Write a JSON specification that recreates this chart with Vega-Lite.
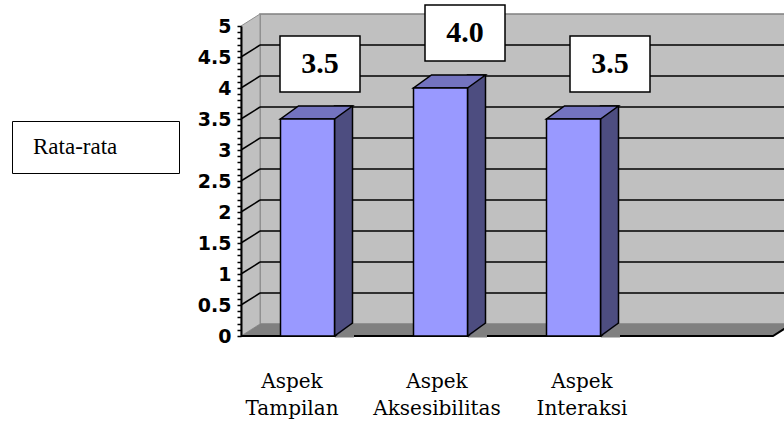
{
  "$schema": "https://vega.github.io/schema/vega-lite/v6.json",
  "width": 532,
  "height": 310,
  "autosize": "none",
  "padding": {"left": 241, "top": 26, "right": 11, "bottom": 88},
  "background": "white",
  "config": {"view": {"stroke": null}},
  "datasets": {
    "nilai": [
      {"aspek": "Aspek Tampilan", "nilai": 3.5, "series": "Rata-rata"},
      {"aspek": "Aspek Aksesibilitas", "nilai": 4.0, "series": "Rata-rata"},
      {"aspek": "Aspek Interaksi", "nilai": 3.5, "series": "Rata-rata"}
    ],
    "grid": [
      {"v": 0.5}, {"v": 1}, {"v": 1.5}, {"v": 2}, {"v": 2.5},
      {"v": 3}, {"v": 3.5}, {"v": 4}, {"v": 4.5}
    ]
  },
  "layer": [
    {
      "description": "back wall",
      "data": {"values": [{}]},
      "mark": {"type": "rect", "fill": "#C0C0C0", "stroke": "#808080", "strokeWidth": 1.5,
               "xOffset": 19, "x2Offset": 19, "yOffset": -12, "y2Offset": -12},
      "encoding": {
        "x": {"value": 0},
        "x2": {"value": "width"},
        "y": {"datum": 5, "type": "quantitative", "scale": {"domain": [0, 5], "nice": false}, "axis": null},
        "y2": {"datum": 0}
      }
    },
    {
      "description": "side wall",
      "data": {"values": [{}]},
      "mark": {"type": "point", "shape": "M0,0L0.19,-0.12L0.19,-3.22L0,-3.1Z", "size": 40000,
               "filled": true, "fill": "#C0C0C0", "stroke": "#909090", "strokeWidth": 1, "opacity": 1},
      "encoding": {"x": {"value": 0}, "y": {"datum": 0, "type": "quantitative", "scale": {"domain": [0, 5], "nice": false}, "axis": null}}
    },
    {
      "description": "floor",
      "data": {"values": [{}]},
      "mark": {"type": "point", "shape": "M0,0L5.32,0L5.51,-0.12L0.19,-0.12Z", "size": 40000,
               "filled": true, "fill": "#808080", "strokeWidth": 0, "opacity": 1},
      "encoding": {"x": {"value": 0}, "y": {"datum": 0, "type": "quantitative", "scale": {"domain": [0, 5], "nice": false}, "axis": null}}
    },
    {
      "description": "gridlines on the back wall",
      "data": {"name": "grid"},
      "mark": {"type": "rule", "color": "black", "strokeWidth": 1.5, "xOffset": 19, "x2Offset": 19, "yOffset": -12},
      "encoding": {
        "x": {"value": 0}, "x2": {"value": "width"},
        "y": {"field": "v", "type": "quantitative", "scale": {"domain": [0, 5], "nice": false}, "axis": null}
      }
    },
    {
      "description": "gridlines on the side wall",
      "data": {"name": "grid"},
      "mark": {"type": "rule", "color": "black", "strokeWidth": 1.5, "xOffset": 19, "yOffset": -12, "x2Offset": 0, "y2Offset": 0},
      "encoding": {
        "x": {"value": 0}, "x2": {"value": 0},
        "y": {"field": "v", "type": "quantitative", "scale": {"domain": [0, 5], "nice": false}, "axis": null},
        "y2": {"field": "v"}
      }
    },
    {
      "description": "front edge of the floor",
      "data": {"values": [{}]},
      "mark": {"type": "point", "shape": "M0,0L5.32,0L5.51,-0.12", "size": 40000,
               "filled": false, "stroke": "black", "strokeWidth": 2, "opacity": 1},
      "encoding": {"x": {"value": 0}, "y": {"datum": 0, "type": "quantitative", "scale": {"domain": [0, 5], "nice": false}, "axis": null}}
    },
    {
      "description": "bar side faces",
      "data": {"name": "nilai"},
      "mark": {"type": "bar", "width": 18, "xOffset": 36, "yOffset": -13,
               "fill": "#4D4D80", "stroke": "black", "strokeWidth": 1.5},
      "encoding": {
        "x": {"field": "aspek", "type": "nominal", "axis": null,
              "scale": {"type": "band", "domain": ["Aspek Tampilan", "Aspek Aksesibilitas", "Aspek Interaksi", ""], "padding": 0}},
        "y": {"field": "nilai", "type": "quantitative", "scale": {"domain": [0, 5], "nice": false}, "axis": null},
        "y2": {"datum": 0}
      }
    },
    {
      "description": "floor showing below each side face",
      "data": {"name": "nilai"},
      "mark": {"type": "point", "shape": "M0,0.015L0.195,0.015L0.195,-0.135Z", "size": 40000,
               "filled": true, "fill": "#808080", "strokeWidth": 0, "opacity": 1, "xOffset": 27},
      "encoding": {
        "x": {"field": "aspek", "type": "nominal", "axis": null,
              "scale": {"type": "band", "domain": ["Aspek Tampilan", "Aspek Aksesibilitas", "Aspek Interaksi", ""], "padding": 0}},
        "y": {"datum": 0, "type": "quantitative", "scale": {"domain": [0, 5], "nice": false}, "axis": null}
      }
    },
    {
      "description": "lower edge of each side face",
      "data": {"name": "nilai"},
      "mark": {"type": "point", "shape": "M0,0L0.18,-0.13", "size": 40000,
               "filled": false, "stroke": "black", "strokeWidth": 1.5, "opacity": 1, "xOffset": 27},
      "encoding": {
        "x": {"field": "aspek", "type": "nominal", "axis": null,
              "scale": {"type": "band", "domain": ["Aspek Tampilan", "Aspek Aksesibilitas", "Aspek Interaksi", ""], "padding": 0}},
        "y": {"datum": 0, "type": "quantitative", "scale": {"domain": [0, 5], "nice": false}, "axis": null}
      }
    },
    {
      "description": "bar top faces",
      "data": {"name": "nilai"},
      "mark": {"type": "point", "shape": "M0,0L0.54,0L0.72,-0.13L0.18,-0.13Z", "size": 40000,
               "filled": true, "fill": "#7373BF", "stroke": "black", "strokeWidth": 1.5, "opacity": 1, "xOffset": -27},
      "encoding": {
        "x": {"field": "aspek", "type": "nominal", "axis": null,
              "scale": {"type": "band", "domain": ["Aspek Tampilan", "Aspek Aksesibilitas", "Aspek Interaksi", ""], "padding": 0}},
        "y": {"field": "nilai", "type": "quantitative", "scale": {"domain": [0, 5], "nice": false}, "axis": null}
      }
    },
    {
      "description": "bar front faces",
      "data": {"name": "nilai"},
      "mark": {"type": "bar", "width": 54, "stroke": "black", "strokeWidth": 1.5, "opacity": 1},
      "encoding": {
        "x": {"field": "aspek", "type": "nominal", "axis": null,
              "scale": {"type": "band", "domain": ["Aspek Tampilan", "Aspek Aksesibilitas", "Aspek Interaksi", ""], "padding": 0}},
        "y": {"field": "nilai", "type": "quantitative", "scale": {"domain": [0, 5], "nice": false},
              "axis": {
                "orient": "left", "title": null, "grid": false, "zindex": 1,
                "values": [0,0.1,0.2,0.3,0.4,0.5,0.6,0.7,0.8,0.9,1,1.1,1.2,1.3,1.4,1.5,1.6,1.7,1.8,1.9,2,2.1,2.2,2.3,2.4,2.5,2.6,2.7,2.8,2.9,3,3.1,3.2,3.3,3.4,3.5,3.6,3.7,3.8,3.9,4,4.1,4.2,4.3,4.4,4.5,4.6,4.7,4.8,4.9,5],
                "labelExpr": "abs(datum.value * 2 - round(datum.value * 2)) < 0.001 ? format(datum.value, '~g') : ''",
                "labelOverlap": false,
                "labelFont": "DejaVu Sans", "labelFontWeight": "bold", "labelFontSize": 19, "labelColor": "black",
                "labelPadding": 6,
                "domainColor": "black", "domainWidth": 2,
                "tickColor": "black", "tickWidth": 1.5, "tickSize": 4
              }},
        "color": {"field": "series", "type": "nominal", "scale": {"range": ["#9999FF"]},
                  "legend": {
                    "orient": "none", "legendX": -229, "legendY": 95, "title": null,
                    "strokeColor": "black", "padding": 14, "fillColor": "white",
                    "labelFont": "Liberation Serif", "labelFontSize": 23, "labelColor": "black",
                    "symbolOpacity": 0, "symbolSize": 9, "symbolType": "square",
                    "symbolOffset": 126, "labelOffset": -142
                  }}
      }
    },
    {
      "description": "value boxes",
      "data": {"name": "nilai"},
      "mark": {"type": "point", "shape": "M-0.4,-0.28L0.4,-0.28L0.4,0.28L-0.4,0.28Z", "size": 40000,
               "filled": true, "fill": "white", "stroke": "black", "strokeWidth": 1.5, "opacity": 1, "yOffset": -55},
      "encoding": {
        "x": {"field": "aspek", "type": "nominal",
              "scale": {"type": "band", "domain": ["Aspek Tampilan", "Aspek Aksesibilitas", "Aspek Interaksi", ""], "range": [6.5, 586.5], "padding": 0},
              "axis": {
                "orient": "bottom", "title": null, "domain": false, "ticks": false, "grid": false,
                "labelExpr": "split(datum.label, ' ')", "labelAngle": 0, "labelOverlap": false, "labelLimit": 0,
                "labelFont": "DejaVu Serif", "labelFontSize": 20, "labelColor": "black", "labelLineHeight": 27,
                "labelBaseline": "top", "labelPadding": 35, "labelOffset": -28
              }},
        "y": {"field": "nilai", "type": "quantitative", "scale": {"domain": [0, 5], "nice": false}, "axis": null}
      }
    },
    {
      "description": "value labels",
      "data": {"name": "nilai"},
      "mark": {"type": "text", "font": "Liberation Serif", "fontWeight": "bold", "fontSize": 30,
               "color": "black", "baseline": "middle", "yOffset": -55},
      "encoding": {
        "x": {"field": "aspek", "type": "nominal", "axis": null,
              "scale": {"type": "band", "domain": ["Aspek Tampilan", "Aspek Aksesibilitas", "Aspek Interaksi", ""], "range": [6.5, 586.5], "padding": 0}},
        "y": {"field": "nilai", "type": "quantitative", "scale": {"domain": [0, 5], "nice": false}, "axis": null},
        "text": {"field": "nilai", "type": "quantitative", "format": ".1f"}
      }
    }
  ],
  "resolve": {"scale": {"x": "independent", "y": "independent"}}
}
